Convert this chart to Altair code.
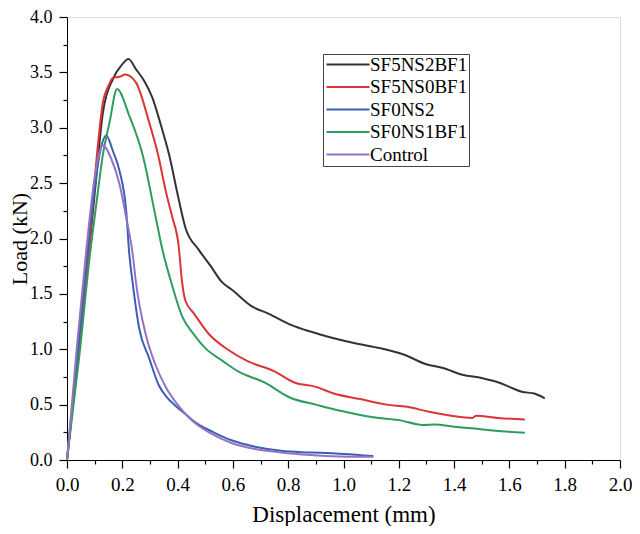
import altair as alt
import pandas as pd

series_names = ["SF5NS2BF1", "SF5NS0BF1", "SF0NS2", "SF0NS1BF1", "Control"]
series_colors = ["#333333", "#dd3439", "#3b5fb3", "#2f9c5f", "#9673c2"]

x_sf5ns2bf1 = [0, 0.04, 0.08, 0.10, 0.13, 0.166, 0.196, 0.222, 0.249, 0.28, 0.309, 0.34, 0.369, 0.40, 0.428, 0.476, 0.52, 0.559, 0.60, 0.667, 0.73, 0.81, 0.88, 0.965, 1.05, 1.132, 1.22, 1.299, 1.36, 1.43, 1.50, 1.561, 1.60, 1.645, 1.69, 1.728]
y_sf5ns2bf1 = [0, 0.95, 1.9, 2.4, 3.14, 3.44, 3.56, 3.62, 3.53, 3.42, 3.27, 3.02, 2.76, 2.40, 2.10, 1.90, 1.75, 1.61, 1.53, 1.39, 1.32, 1.22, 1.16, 1.10, 1.05, 1.01, 0.95, 0.865, 0.83, 0.77, 0.74, 0.70, 0.66, 0.616, 0.60, 0.557]

x_sf5ns0bf1 = [0, 0.04, 0.08, 0.11, 0.13, 0.15, 0.166, 0.19, 0.21, 0.249, 0.297, 0.33, 0.357, 0.38, 0.404, 0.416, 0.428, 0.46, 0.512, 0.58, 0.655, 0.75, 0.822, 0.90, 0.965, 1.06, 1.156, 1.23, 1.31, 1.39, 1.466, 1.48, 1.56, 1.656]
y_sf5ns0bf1 = [0, 0.95, 1.9, 2.8, 3.23, 3.38, 3.45, 3.46, 3.48, 3.41, 3.05, 2.75, 2.43, 2.2, 1.93, 1.61, 1.44, 1.32, 1.14, 1.00, 0.89, 0.80, 0.70, 0.66, 0.60, 0.55, 0.50, 0.48, 0.435, 0.40, 0.38, 0.40, 0.38, 0.365]

x_sf0ns2 = [0, 0.04, 0.075, 0.10, 0.118, 0.142, 0.166, 0.19, 0.214, 0.225, 0.24, 0.261, 0.297, 0.333, 0.36, 0.392, 0.43, 0.464, 0.53, 0.595, 0.68, 0.774, 0.85, 0.917, 1.0, 1.108]
y_sf0ns2 = [0, 1.0, 1.9, 2.45, 2.76, 2.93, 2.79, 2.61, 2.25, 1.87, 1.55, 1.19, 0.92, 0.67, 0.57, 0.49, 0.41, 0.34, 0.25, 0.178, 0.12, 0.083, 0.07, 0.065, 0.055, 0.036]

x_sf0ns1bf1 = [0, 0.045, 0.085, 0.106, 0.13, 0.154, 0.181, 0.225, 0.273, 0.321, 0.345, 0.374, 0.416, 0.46, 0.5, 0.56, 0.619, 0.714, 0.81, 0.9, 0.989, 1.108, 1.2, 1.287, 1.33, 1.40, 1.49, 1.57, 1.656]
y_sf0ns1bf1 = [0, 0.95, 1.9, 2.31, 2.76, 3.05, 3.35, 3.11, 2.76, 2.19, 1.9, 1.63, 1.30, 1.13, 1.01, 0.90, 0.80, 0.70, 0.56, 0.50, 0.444, 0.385, 0.36, 0.317, 0.32, 0.30, 0.28, 0.26, 0.246]

x_control = [0, 0.035, 0.07, 0.1, 0.13, 0.16, 0.19, 0.214, 0.237, 0.249, 0.285, 0.32, 0.357, 0.40, 0.452, 0.52, 0.595, 0.68, 0.774, 0.88, 1.013, 1.108]
y_control = [0, 1.0, 1.9, 2.55, 2.84, 2.72, 2.49, 2.19, 1.87, 1.61, 1.13, 0.86, 0.66, 0.50, 0.356, 0.24, 0.154, 0.10, 0.068, 0.045, 0.03, 0.03]

x_ticks = [round(i * 0.1, 1) for i in range(21)]
y_ticks = [round(i * 0.25, 2) for i in range(17)]

xs = [x_sf5ns2bf1, x_sf5ns0bf1, x_sf0ns2, x_sf0ns1bf1, x_control]
ys = [y_sf5ns2bf1, y_sf5ns0bf1, y_sf0ns2, y_sf0ns1bf1, y_control]

rows = []
for name, xv, yv in zip(series_names, xs, ys):
    for i, (a, b) in enumerate(zip(xv, yv)):
        rows.append({"series": name, "x": a, "y": b, "i": i})
df = pd.DataFrame(rows)

FONT = "Liberation Serif"
W, H = 553, 443

x_axis = alt.Axis(
    values=x_ticks,
    labelExpr="round(datum.value*10) % 2 == 0 ? format(datum.value, '.1f') : ''",
    tickSize={"condition": {"test": "round(datum.value*10) % 2 == 0", "value": 8}, "value": 4},
    title="Displacement (mm)",
    titleFontSize=23, titleFont=FONT, titleFontWeight="normal", titleColor="black",
    titleX=W / 2, titleY=61, titleBaseline="alphabetic", titleAlign="center",
    labelFontSize=19, labelFont=FONT, labelColor="black", labelPadding=7,
    domainColor="black", tickColor="black", tickWidth=1.2, grid=False, labelFlush=False,
)
y_axis = alt.Axis(
    values=y_ticks,
    labelExpr="round(datum.value*4) % 2 == 0 ? format(datum.value, '.1f') : ''",
    tickSize={"condition": {"test": "round(datum.value*4) % 2 == 0", "value": 8}, "value": 4},
    title="Load (kN)",
    titleFontSize=22, titleFont=FONT, titleFontWeight="normal", titleColor="black",
    titleAngle=270, titleX=-41, titleY=H / 2, titleBaseline="alphabetic", titleAlign="center",
    labelFontSize=18, labelFont=FONT, labelColor="black", labelPadding=7,
    domainColor="black", tickColor="black", tickWidth=1.2, grid=False, labelFlush=False,
)

chart = alt.Chart(df).mark_line(strokeWidth=2, interpolate="monotone").encode(
    x=alt.X("x:Q", scale=alt.Scale(domain=[0, 2], nice=False), axis=x_axis),
    y=alt.Y("y:Q", scale=alt.Scale(domain=[0, 4], nice=False), axis=y_axis),
    color=alt.Color(
        "series:N",
        scale=alt.Scale(domain=series_names, range=series_colors),
        sort=series_names,
        legend=alt.Legend(
            title=None, orient="none", legendX=256, legendY=37,
            symbolType="M-1.4,0H7.2", symbolSize=100, symbolStrokeWidth=2,
            labelFont=FONT, labelFontSize=19, labelColor="black",
            strokeColor="#444444", padding=1, rowPadding=2.5, labelOffset=27,
        ),
    ),
    detail="series:N",
    order="i:Q",
).properties(
    width=W, height=H,
    autosize=alt.AutoSizeParams(type="none"),
    padding={"left": 59, "top": 9, "right": 12, "bottom": 66},
).configure_view(stroke="black", strokeWidth=1.2).configure(
    background="white", font=FONT
).configure_axis(labelFont=FONT, titleFont=FONT).configure_legend(labelFont=FONT)

chart.save("out.html", embed_options={"renderer": "svg", "actions": False})
